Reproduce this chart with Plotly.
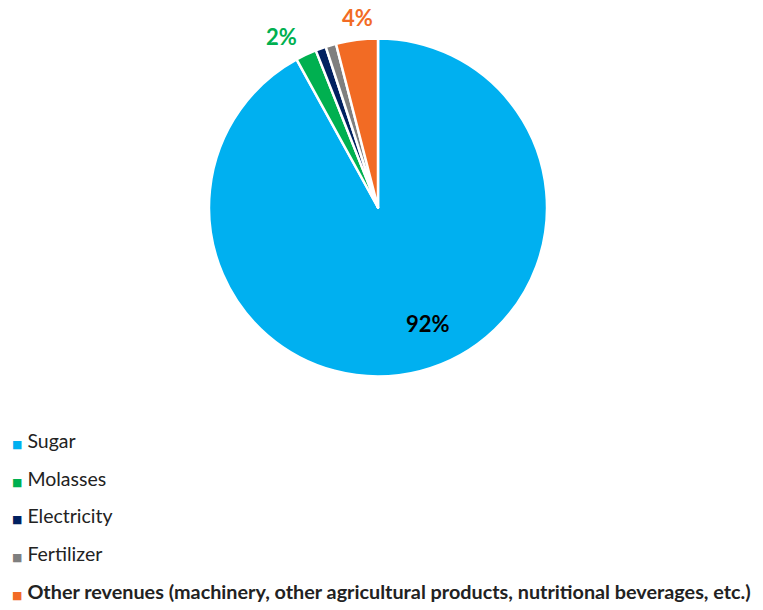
import plotly.graph_objects as go

labels = ["Sugar", "Molasses", "Electricity", "Fertilizer",
          "Other revenues (machinery, other agricultural products, nutritional beverages, etc.)"]
values = [92, 2, 1, 1, 4]
colors = ["#00B0F0", "#00B050", "#002060", "#7F7F7F", "#F26B24"]
label_colors = ["#000000", "#00B050", None, None, "#F26B24"]
legend_bold = [False, False, False, False, True]

W, H = 763, 610
cx, cy, r = 378, 207.5, 169

# pixel positions (centres) of the percentage labels
label_pos = {0: (428, 323), 1: (281, 36), 4: (357, 18)}

fig = go.Figure()
fig.add_trace(go.Pie(
    labels=labels, values=values, sort=False, direction="clockwise", rotation=0,
    marker=dict(colors=colors, line=dict(color="white", width=2.5)),
    textinfo="none", showlegend=False, hoverinfo="label+percent",
    domain=dict(x=[(cx - r) / W, (cx + r) / W], y=[1 - (cy + r) / H, 1 - (cy - r) / H]),
))

for i, (lab, col, b) in enumerate(zip(labels, colors, legend_bold)):
    txt = f"<span style='font-size:19.8px'><b>{lab}</b></span>" if b else lab
    name = f"<span style='color:{col};font-size:11px;font-family:DejaVu Sans'>■</span> {txt}"
    fig.add_trace(go.Scatter(
        x=[None], y=[None], mode="markers", name=name,
        marker=dict(symbol="square", size=1, color="rgba(0,0,0,0)"),
        legendgroup=f"g{i}", showlegend=True, hoverinfo="skip",
    ))

for i, (px, py) in label_pos.items():
    fig.add_annotation(
        x=px / W, y=1 - py / H, xref="paper", yref="paper",
        text=f"<b>{values[i]}%</b>", showarrow=False,
        xanchor="center", yanchor="middle",
        font=dict(family="Lato", size=22, color=label_colors[i]),
    )

fig.update_layout(
    width=W, height=H,
    margin=dict(l=0, r=0, t=0, b=0, autoexpand=False),
    paper_bgcolor="white", plot_bgcolor="white",
    xaxis=dict(visible=False), yaxis=dict(visible=False),
    legend=dict(x=-28 / W, y=1 - 421 / H, xanchor="left", yanchor="top",
                orientation="v", tracegroupgap=9.5, itemwidth=30,
                font=dict(family="Lato", size=19.5, color="#222222"),
                bgcolor="rgba(0,0,0,0)"),
    showlegend=True,
)

fig.write_html("out.html")
